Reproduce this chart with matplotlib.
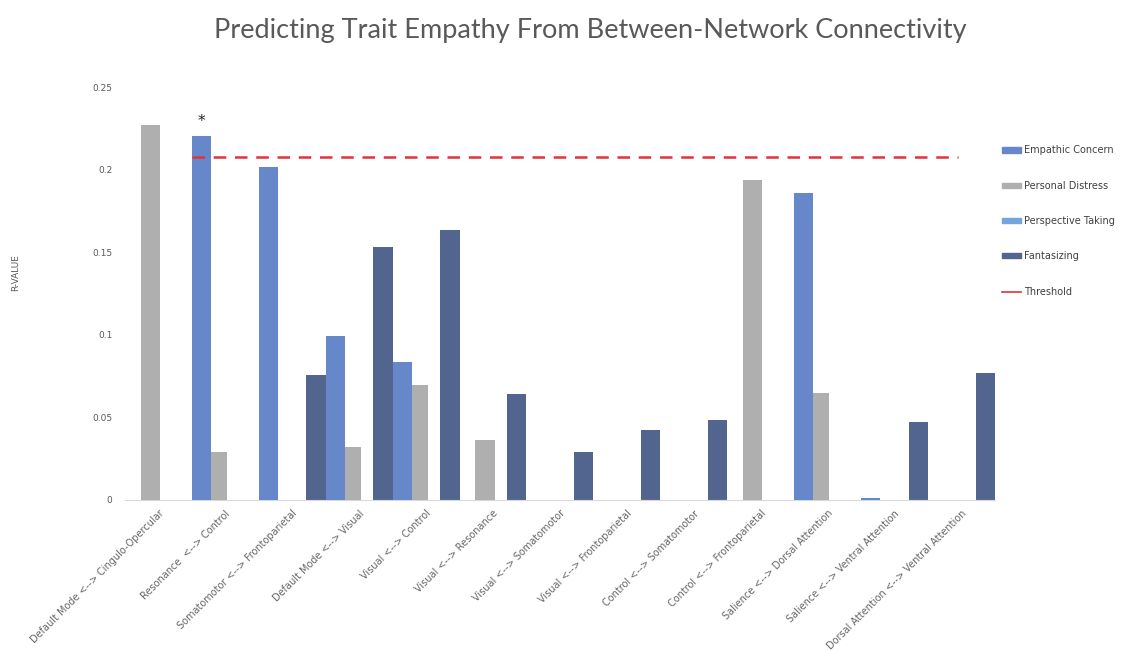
import numpy as np
import matplotlib
matplotlib.use("Agg")
import matplotlib.pyplot as plt
from matplotlib.lines import Line2D
from matplotlib.patches import Patch

categories = [
    "Default Mode <--> Cingulo-Opercular",
    "Resonance  <--> Control",
    "Somatomotor <--> Frontoparietal",
    "Default Mode <--> Visual",
    "Visual <--> Control",
    "Visual <--> Resonance",
    "Visual <--> Somatomotor",
    "Visual <--> Frontoparietal",
    "Control <--> Somatomotor",
    "Control <--> Frontoparietal",
    "Salience <--> Dorsal Attention",
    "Salience <--> Ventral Attention",
    "Dorsal Attention <--> Ventral Attention",
]

empathic_concern = [0, 0.2205, 0.2014, 0.0993, 0.0833, 0, 0, 0, 0, 0, 0.1857, 0.0012, 0]
personal_distress = [0.2274, 0.0289, 0, 0.0323, 0.0696, 0.0363, 0, 0, 0, 0.1941, 0.0646, 0, 0]
perspective_taking = [0, 0, 0, 0, 0, 0, 0, 0, 0, 0, 0, 0, 0]
fantasizing = [0, 0, 0.0757, 0.1533, 0.1638, 0.0640, 0.0289, 0.0424, 0.0482, 0, 0, 0.0474, 0.0767]
threshold = 0.208

series = [
    ("Empathic Concern", empathic_concern, "#6787cb"),
    ("Personal Distress", personal_distress, "#afafaf"),
    ("Perspective Taking", perspective_taking, "#76a3db"),
    ("Fantasizing", fantasizing, "#52658f"),
]

text_col = "#595959"

fig = plt.figure(figsize=(11.21, 6.51), dpi=100)
ax = fig.add_axes([0.1115, 0.232, 0.776, 0.634])

x = np.arange(len(categories))
step = 0.237
width = 0.289
zorders = [5, 4, 3, 2]
for i, (name, vals, col) in enumerate(series):
    ax.bar(x + (i - 1.5) * step, vals, width=width, color=col, zorder=zorders[i])

ax.hlines(threshold, 0.5, 11.95, colors="#e0343c", linestyles=(0, (5, 3.5)),
          linewidth=1.8, zorder=6)

# significance marker
ax.text(1 - 1.5 * step, empathic_concern[1] + 0.004, "*", ha="center", va="bottom",
        fontsize=11, color="#222222")

ax.set_xlim(-0.5, len(categories) - 0.5)
ax.set_ylim(0, 0.25)
ax.set_yticks([0, 0.05, 0.1, 0.15, 0.2, 0.25])
ax.set_yticklabels(["0", "0.05", "0.1", "0.15", "0.2", "0.25"], fontsize=6.5, color=text_col)
ax.set_xticks(x)
ax.set_xticklabels(categories, rotation=45, ha="right", rotation_mode="anchor",
                   fontsize=7, color="#666666")
ax.tick_params(axis="both", length=0)
ax.tick_params(axis="y", pad=9)
ax.tick_params(axis="x", pad=6)
for s in ["top", "right", "left"]:
    ax.spines[s].set_visible(False)
ax.spines["bottom"].set_color("#d9d9d9")

fig.text(0.014, 0.582, "R-VALUE", rotation=90, fontsize=6.5, color=text_col,
         ha="center", va="center")

fig.suptitle("Predicting Trait Empathy From Between-Network Connectivity",
             x=0.527, y=0.973, fontsize=19.5, color=text_col, family="Lato")

handles = [Patch(color=c) for _, _, c in series]
handles.append(Line2D([], [], color="#e0343c", linewidth=1.2))
labels = [n for n, _, _ in series] + ["Threshold"]
fig.legend(handles, labels, loc="upper left", bbox_to_anchor=(0.886, 0.79),
           frameon=False, fontsize=7, labelcolor="#404040", labelspacing=2.6,
           handlelength=2.0, handleheight=0.45, handletextpad=0.3)

fig.savefig("out.png", dpi=100)
